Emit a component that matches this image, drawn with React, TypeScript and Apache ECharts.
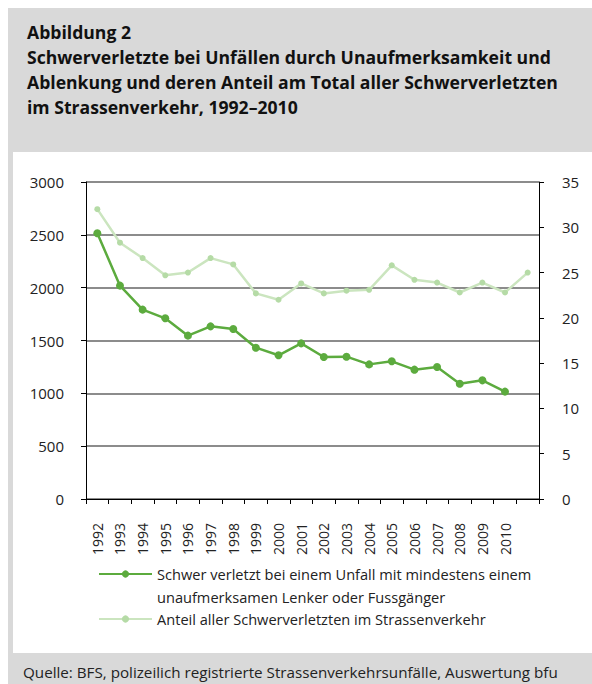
import React, { useEffect, useRef } from "react";
import * as echarts from "echarts";

const years = ["1992","1993","1994","1995","1996","1997","1998","1999","2000","2001","2002","2003","2004","2005","2006","2007","2008","2009","2010",""];
const injured = [2515, 2019, 1792, 1710, 1546, 1634, 1609, 1432, 1360, 1473, 1344, 1347, 1274, 1303, 1224, 1249, 1091, 1123, 1016];
const share = [32.0, 28.3, 26.6, 24.7, 25.0, 26.6, 25.9, 22.7, 22.0, 23.8, 22.7, 23.0, 23.1, 25.8, 24.2, 23.9, 22.8, 23.9, 22.8, 25.0];
const leftTicks = { min: 0, max: 3000, interval: 500 };
const rightTicks = { min: 0, max: 35, interval: 5 };

const seriesName1 = "Schwer verletzt bei einem Unfall mit mindestens einem unaufmerksamen Lenker oder Fussgänger";
const seriesName2 = "Anteil aller Schwerverletzten im Strassenverkehr";
const titleText = "Abbildung 2\nSchwerverletzte bei Unfällen durch Unaufmerksamkeit und\nAblenkung und deren Anteil am Total aller Schwerverletzten\nim Strassenverkehr, 1992–2010";
const sourceText = "Quelle: BFS, polizeilich registrierte Strassenverkehrsunfälle, Auswertung bfu";

const FONT = "'Open Sans', sans-serif";
const TXT = "#222222";
const GRAY = "#d9d9d9";
const DARK = "#5cab3e";
const LIGHT = "#cbe5bf";

export default function App() {
  const ref = useRef<HTMLDivElement>(null);
  useEffect(() => {
    if (!ref.current) return;
    const chart = echarts.init(ref.current, null, { renderer: "svg" });
    chart.setOption({
      animation: false,
      backgroundColor: "#ffffff",
      title: {
        text: titleText,
        left: 27,
        top: 19,
        padding: 0,
        textStyle: { fontFamily: FONT, fontWeight: "bold", fontSize: 17.6, lineHeight: 25, color: "#111111" },
      },
      graphic: [
        { type: "rect", z: -1, shape: { x: 8, y: 8, width: 584, height: 144 }, style: { fill: GRAY } },
        { type: "rect", z: -1, shape: { x: 8, y: 152, width: 5, height: 501 }, style: { fill: GRAY } },
        { type: "rect", z: -1, shape: { x: 8, y: 653, width: 584, height: 31 }, style: { fill: GRAY } },
        { type: "text", x: 23, y: 672, style: { text: sourceText, font: `15.2px ${FONT}`, fill: TXT, verticalAlign: "middle" } },
      ],
      grid: { left: 86, right: 53, top: 182, bottom: 185, containLabel: false },
      legend: [
        {
          data: [seriesName1],
          orient: "vertical",
          left: 98,
          top: 539.5,
          padding: 0,
          itemWidth: 53,
          itemHeight: 9,
          itemGap: 0,
          formatter: () => "\nSchwer verletzt bei einem Unfall mit mindestens einem\nunaufmerksamen Lenker oder Fussgänger",
          textStyle: { fontFamily: FONT, fontSize: 14.6, lineHeight: 23, color: TXT },
        },
        {
          data: [seriesName2],
          orient: "vertical",
          left: 98,
          top: 607.5,
          padding: 0,
          itemWidth: 53,
          itemHeight: 9,
          itemGap: 0,
          textStyle: { fontFamily: FONT, fontSize: 14.6, lineHeight: 23, color: TXT },
        },
      ],
      xAxis: {
        type: "category",
        data: years,
        boundaryGap: true,
        axisLine: { lineStyle: { color: "#000000", width: 1 } },
        axisTick: { show: true, length: 5, interval: 0, lineStyle: { color: "#000000" } },
        axisLabel: { interval: 0, rotate: 90, margin: 24, fontFamily: FONT, fontSize: 14, color: TXT },
        splitLine: { show: false },
      },
      yAxis: [
        {
          type: "value",
          ...leftTicks,
          position: "left",
          axisLine: { show: true, lineStyle: { color: "#000000", width: 1 } },
          axisTick: { show: true, length: 5, lineStyle: { color: "#000000" } },
          axisLabel: { margin: 22, fontFamily: FONT, fontSize: 15, color: TXT, formatter: (v: number) => String(v) },
          splitLine: { show: true, lineStyle: { color: "#8c8c8c", width: 2 } },
        },
        {
          type: "value",
          ...rightTicks,
          position: "right",
          axisLine: { show: true, lineStyle: { color: "#000000", width: 1 } },
          axisTick: { show: true, length: 5, lineStyle: { color: "#000000" } },
          axisLabel: { margin: 23, fontFamily: FONT, fontSize: 15, color: TXT, formatter: (v: number) => String(v) },
          splitLine: { show: false },
        },
      ],
      series: [
        {
          name: seriesName2,
          type: "line",
          yAxisIndex: 1,
          data: share,
          symbol: "circle",
          symbolSize: 6,
          lineStyle: { color: LIGHT, width: 2.5 },
          itemStyle: { color: "#b5dba6" },
          z: 2,
        },
        {
          name: seriesName1,
          type: "line",
          yAxisIndex: 0,
          data: injured,
          symbol: "circle",
          symbolSize: 8,
          lineStyle: { color: DARK, width: 2.5 },
          itemStyle: { color: DARK },
          z: 3,
        },
      ],
    });
    return () => chart.dispose();
  }, []);
  return <div ref={ref} style={{ position: "fixed", left: 0, top: 0, width: 592, height: 684 }} />;
}
